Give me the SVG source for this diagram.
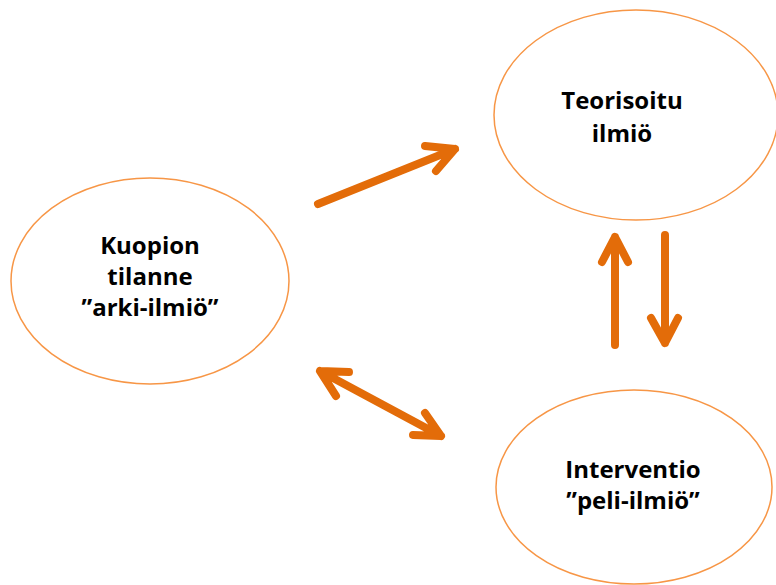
<svg xmlns="http://www.w3.org/2000/svg" width="776" height="585" viewBox="0 0 776 585">
<style>
.node{fill:#fff;stroke:#F79646;stroke-width:1.5}
.t{font-family:"Open Sans","Liberation Sans",sans-serif;font-weight:bold;font-size:24px;fill:#000;text-anchor:middle}
.a{fill:none;stroke:#E36C09;stroke-width:8;stroke-linecap:round;stroke-linejoin:round}
</style>
<rect width="776" height="585" fill="#fff"/>
<g id="kuopio">
<ellipse class="node" cx="150" cy="281" rx="139" ry="103"/>
<text class="t" x="150" y="254">Kuopion</text>
<text class="t" x="150" y="285">tilanne</text>
<text class="t" x="150" y="316">”arki-ilmiö”</text>
</g>
<g id="teorisoitu">
<ellipse class="node" cx="636" cy="115" rx="142" ry="105"/>
<text class="t" x="622" y="109">Teorisoitu</text>
<text class="t" x="622" y="142">ilmiö</text>
</g>
<g id="interventio">
<ellipse class="node" cx="634" cy="487" rx="138" ry="97"/>
<text class="t" x="633" y="478">Interventio</text>
<text class="t" x="633" y="509">”peli-ilmiö”</text>
</g>
<g id="connectors">
<path class="a" d="M318 204 L455 149 M425 146 L455 149 L436 171"/>
<path class="a" d="M615 345 L615 237 M602 262 L615 237 L628 262"/>
<path class="a" d="M665 235 L665 343 M651 318 L665 343 L678 318"/>
<path class="a" d="M320 371 L441 436 M349 372 L320 371 L336 396 M425 413 L441 436 L413 435"/>
</g>
</svg>
